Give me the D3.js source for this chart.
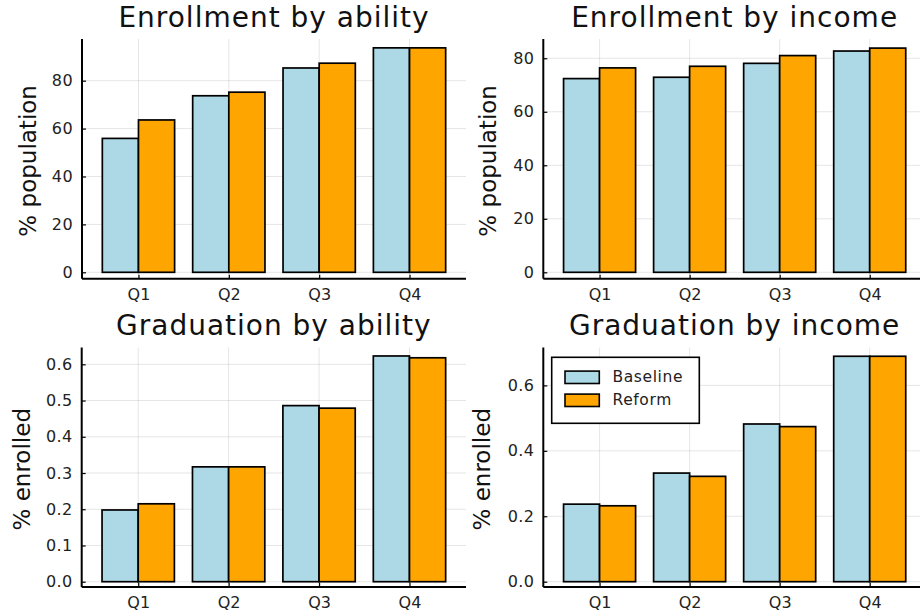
<!DOCTYPE html>
<html>
<head>
<meta charset="utf-8">
<script src="https://cdn.jsdelivr.net/npm/d3@7"></script>
<style>
  html, body { margin: 0; padding: 0; background: #fff; }
  svg { display: block; font-family: "DejaVu Sans", sans-serif; }
</style>
</head>
<body>
<svg id="chart" width="920" height="615"></svg>
<script>
// Quartile categories shared by every panel
const categories = ["Q1", "Q2", "Q3", "Q4"];
const seriesNames = ["Baseline", "Reform"];

// Enrollment rates (% of population)
const enrollAbilityBaseline = [55.9, 73.7, 85.3, 93.7];
const enrollAbilityReform   = [63.6, 75.2, 87.3, 93.7];
const enrollIncomeBaseline  = [72.4, 72.9, 78.1, 82.7];
const enrollIncomeReform    = [76.4, 77.0, 81.0, 83.8];

// Graduation rates (share of enrolled)
const gradAbilityBaseline = [0.198, 0.317, 0.486, 0.623];
const gradAbilityReform   = [0.215, 0.317, 0.479, 0.618];
const gradIncomeBaseline  = [0.237, 0.332, 0.482, 0.689];
const gradIncomeReform    = [0.232, 0.322, 0.474, 0.689];

// Tick values and axis limits
const enrollTicks = [0, 20, 40, 60, 80];
const gradAbilityTicks = [0, 0.1, 0.2, 0.3, 0.4, 0.5, 0.6];
const gradIncomeTicks = [0, 0.2, 0.4, 0.6];
const enrollAbilityLimits = [-2.67, 97.4];
const enrollIncomeLimits  = [-2.39, 87.2];
const gradAbilityLimits   = [-0.0146, 0.6464];
const gradIncomeLimits    = [-0.0162, 0.7158];

const colors = ["#add8e6", "#ffa500"];

const panels = [
  { title: "Enrollment by ability", ylabel: "% population",
    series: [enrollAbilityBaseline, enrollAbilityReform],
    ticks: enrollTicks, limits: enrollAbilityLimits, fmt: d3.format("d"),
    box: { left: 82, right: 466, top: 39, bottom: 278.7 },
    titleY: 27, labelX: 28, legend: false },
  { title: "Enrollment by income", ylabel: "% population",
    series: [enrollIncomeBaseline, enrollIncomeReform],
    ticks: enrollTicks, limits: enrollIncomeLimits, fmt: d3.format("d"),
    box: { left: 543.3, right: 926, top: 39, bottom: 278.7 },
    titleY: 27, labelX: 488.3, legend: false },
  { title: "Graduation by ability", ylabel: "% enrolled",
    series: [gradAbilityBaseline, gradAbilityReform],
    ticks: gradAbilityTicks, limits: gradAbilityLimits, fmt: d3.format(".1f"),
    box: { left: 81.7, right: 466, top: 347.5, bottom: 587 },
    titleY: 335, labelX: 21.7, legend: false },
  { title: "Graduation by income", ylabel: "% enrolled",
    series: [gradIncomeBaseline, gradIncomeReform],
    ticks: gradIncomeTicks, limits: gradIncomeLimits, fmt: d3.format(".1f"),
    box: { left: 543.3, right: 926, top: 347.5, bottom: 587 },
    titleY: 335, labelX: 481.7, legend: true }
];

const svg = d3.select("#chart");
const barWidth = 0.4; // width of one bar in category units

panels.forEach(p => {
  const b = p.box;
  const g = svg.append("g");

  const x = d3.scaleLinear().domain([0.375, 4.625]).range([b.left, b.right]);
  const y = d3.scaleLinear().domain(p.limits).range([b.bottom, b.top]);
  const pos = categories.map((c, i) => i + 1);

  // grid
  g.append("g").selectAll("line").data(p.ticks).join("line")
    .attr("x1", b.left).attr("x2", b.right)
    .attr("y1", d => y(d)).attr("y2", d => y(d))
    .attr("stroke", "#000").attr("stroke-opacity", 0.1).attr("stroke-width", 1);
  g.append("g").selectAll("line").data(pos).join("line")
    .attr("x1", d => x(d)).attr("x2", d => x(d))
    .attr("y1", b.top).attr("y2", b.bottom)
    .attr("stroke", "#000").attr("stroke-opacity", 0.1).attr("stroke-width", 1);

  // bars
  p.series.forEach((vals, s) => {
    g.append("g").selectAll("rect").data(vals).join("rect")
      .attr("x", (d, i) => x(pos[i] + (s === 0 ? -barWidth : 0)))
      .attr("width", x(barWidth) - x(0))
      .attr("y", d => y(d))
      .attr("height", d => y(0) - y(d))
      .attr("fill", colors[s])
      .attr("stroke", "#000").attr("stroke-width", 1.7);
  });

  // y axis
  const yAxis = d3.axisLeft(y).tickValues(p.ticks).tickFormat(p.fmt)
    .tickSizeInner(-4).tickSizeOuter(0).tickPadding(9);
  const ya = g.append("g").attr("transform", `translate(${b.left},0)`).call(yAxis);
  ya.select(".domain").remove();
  ya.selectAll(".tick line").attr("stroke", "#000").attr("stroke-width", 1.2);
  ya.selectAll(".tick text").attr("font-size", 16).attr("fill", "#222")
    .attr("font-family", "DejaVu Sans").attr("letter-spacing", 0.4);

  // x axis
  const xAxis = d3.axisBottom(x).tickValues(pos).tickFormat((d, i) => categories[i])
    .tickSizeInner(-4).tickSizeOuter(0).tickPadding(10);
  const xa = g.append("g").attr("transform", `translate(0,${b.bottom})`).call(xAxis);
  xa.select(".domain").remove();
  xa.selectAll(".tick line").attr("stroke", "#000").attr("stroke-width", 1.2);
  xa.selectAll(".tick text").attr("font-size", 16).attr("fill", "#222")
    .attr("font-family", "DejaVu Sans");

  // axis spines
  g.append("line").attr("x1", b.left).attr("x2", b.left)
    .attr("y1", b.top).attr("y2", b.bottom)
    .attr("stroke", "#000").attr("stroke-width", 2);
  g.append("line").attr("x1", b.left).attr("x2", b.right)
    .attr("y1", b.bottom).attr("y2", b.bottom)
    .attr("stroke", "#000").attr("stroke-width", 2);

  // title
  g.append("text").attr("x", (b.left + b.right) / 2).attr("y", p.titleY)
    .attr("text-anchor", "middle").attr("font-size", 28).attr("fill", "#111")
    .attr("letter-spacing", 1)
    .text(p.title);

  // y label
  g.append("text")
    .attr("transform", `translate(${p.labelX},${(b.top + b.bottom) / 2 + 2}) rotate(-90)`)
    .attr("text-anchor", "middle").attr("dominant-baseline", "central")
    .attr("font-size", 23).attr("fill", "#111")
    .text(p.ylabel);

  if (p.legend) {
    const lg = g.append("g");
    lg.append("rect").attr("x", 551.7).attr("y", 357.3)
      .attr("width", 147.6).attr("height", 66)
      .attr("fill", "#fff").attr("stroke", "#000").attr("stroke-width", 1.6);
    seriesNames.forEach((name, s) => {
      const cy = 377.3 + s * 23;
      lg.append("rect").attr("x", 565).attr("y", cy - 6.2)
        .attr("width", 34.3).attr("height", 12.4)
        .attr("fill", colors[s]).attr("stroke", "#000").attr("stroke-width", 1.6);
      lg.append("text").attr("x", 612.5).attr("y", cy)
        .attr("dominant-baseline", "central").attr("font-size", 15.5).attr("fill", "#222")
        .attr("letter-spacing", 0.6)
        .text(name);
    });
  }
});
</script>
</body>
</html>
